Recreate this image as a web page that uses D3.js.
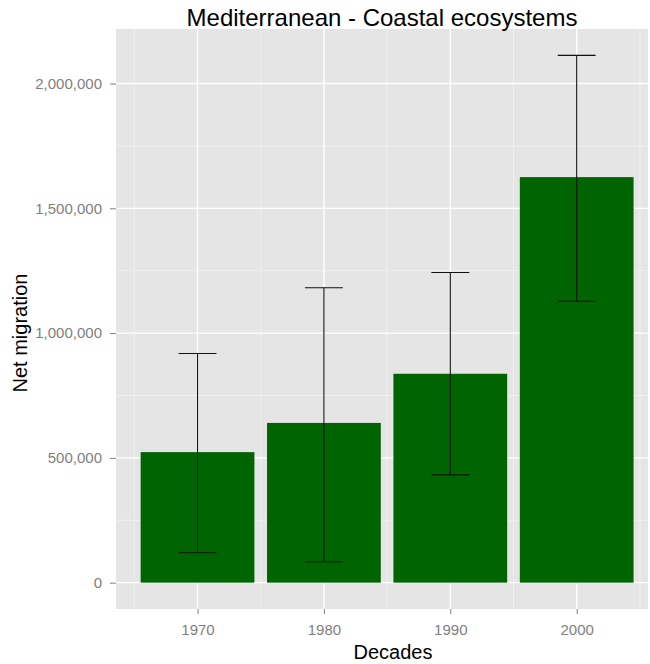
<!DOCTYPE html>
<html>
<head>
<meta charset="utf-8">
<script src="https://cdn.jsdelivr.net/npm/d3@7"></script>
<style>
  html, body { margin: 0; padding: 0; background: #ffffff; }
  svg { display: block; font-family: "Liberation Sans", Arial, sans-serif; }
</style>
</head>
<body>
<svg id="chart" width="650" height="664"></svg>
<script>
// Net migration per decade, Mediterranean coastal ecosystems
const decades = [1970, 1980, 1990, 2000];
const netMigration = [523000, 640000, 837000, 1625000];
const errLow = [120000, 84000, 432000, 1127000];
const errHigh = [918000, 1182000, 1243000, 2113000];
const yTicks = [0, 500000, 1000000, 1500000, 2000000];
const yMinor = [250000, 750000, 1250000, 1750000];
const xMinor = [1965, 1975, 1985, 1995, 2005];

const barWidthYears = 9;
const capWidthYears = 3;

const svg = d3.select("#chart");
const panel = { left: 116, right: 648, top: 29, bottom: 609 };

// continuous x with 5% expansion around the bar extents
const xLo = d3.min(decades) - barWidthYears / 2;
const xHi = d3.max(decades) + barWidthYears / 2;
const xPad = (xHi - xLo) * 0.05;
const x = d3.scaleLinear()
  .domain([xLo - xPad, xHi + xPad])
  .range([panel.left, panel.left + (panel.right - panel.left) * 1.0192]);

const yLo = Math.min(0, d3.min(errLow));
const yHi = d3.max(errHigh);
const yPad = (yHi - yLo) * 0.05;
const y = d3.scaleLinear()
  .domain([yLo - yPad, yHi + yPad])
  .range([panel.bottom, panel.top]);

svg.append("defs").append("clipPath").attr("id", "panelClip")
  .append("rect")
  .attr("x", panel.left).attr("y", panel.top)
  .attr("width", panel.right - panel.left)
  .attr("height", panel.bottom - panel.top);

const g = svg.append("g").attr("clip-path", "url(#panelClip)");

g.append("rect")
  .attr("x", panel.left).attr("y", panel.top)
  .attr("width", panel.right - panel.left)
  .attr("height", panel.bottom - panel.top)
  .attr("fill", "#e5e5e5");

// minor grid
g.selectAll("line.ymin").data(yMinor).join("line")
  .attr("x1", panel.left).attr("x2", panel.right)
  .attr("y1", d => y(d)).attr("y2", d => y(d))
  .attr("stroke", "#f2f2f2").attr("stroke-width", 0.8);
g.selectAll("line.xmin").data(xMinor).join("line")
  .attr("y1", panel.top).attr("y2", panel.bottom)
  .attr("x1", d => x(d)).attr("x2", d => x(d))
  .attr("stroke", "#f2f2f2").attr("stroke-width", 0.8);

// major grid
g.selectAll("line.ymaj").data(yTicks).join("line")
  .attr("x1", panel.left).attr("x2", panel.right)
  .attr("y1", d => y(d)).attr("y2", d => y(d))
  .attr("stroke", "#ffffff").attr("stroke-width", 1.4);
g.selectAll("line.xmaj").data(decades).join("line")
  .attr("y1", panel.top).attr("y2", panel.bottom)
  .attr("x1", d => x(d)).attr("x2", d => x(d))
  .attr("stroke", "#ffffff").attr("stroke-width", 1.4);

// bars
g.selectAll("rect.bar").data(decades).join("rect")
  .attr("class", "bar")
  .attr("x", d => x(d - barWidthYears / 2))
  .attr("width", d => x(d + barWidthYears / 2) - x(d - barWidthYears / 2))
  .attr("y", (d, i) => y(netMigration[i]))
  .attr("height", (d, i) => y(0) - y(netMigration[i]))
  .attr("fill", "#006400");

// error bars
const eb = g.selectAll("g.err").data(decades).join("g");
eb.append("line")
  .attr("x1", d => x(d)).attr("x2", d => x(d))
  .attr("y1", (d, i) => y(errLow[i])).attr("y2", (d, i) => y(errHigh[i]))
  .attr("stroke", "#111").attr("stroke-width", 1.1);
eb.append("line")
  .attr("x1", d => x(d - capWidthYears / 2)).attr("x2", d => x(d + capWidthYears / 2))
  .attr("y1", (d, i) => y(errHigh[i])).attr("y2", (d, i) => y(errHigh[i]))
  .attr("stroke", "#111").attr("stroke-width", 1.1);
eb.append("line")
  .attr("x1", d => x(d - capWidthYears / 2)).attr("x2", d => x(d + capWidthYears / 2))
  .attr("y1", (d, i) => y(errLow[i])).attr("y2", (d, i) => y(errLow[i]))
  .attr("stroke", "#111").attr("stroke-width", 1.1);

// axes
const fmt = d3.format(",");
const yAxis = svg.append("g")
  .attr("transform", `translate(${panel.left},0)`)
  .call(d3.axisLeft(y).tickValues(yTicks).tickFormat(fmt).tickSize(6).tickPadding(8));
const xAxis = svg.append("g")
  .attr("transform", `translate(0,${panel.bottom})`)
  .call(d3.axisBottom(x).tickValues(decades).tickFormat(d3.format("d")).tickSize(5).tickPadding(10));

[yAxis, xAxis].forEach(ax => {
  ax.select(".domain").remove();
  ax.selectAll(".tick line").attr("stroke", "#7f7f7f").attr("stroke-width", 1);
  ax.selectAll(".tick text")
    .attr("fill", "#7f7f7f")
    .attr("font-size", 15)
    .attr("font-family", "\"Liberation Sans\", Arial, sans-serif");
});

// titles
svg.append("text")
  .attr("x", 382).attr("y", 26)
  .attr("text-anchor", "middle")
  .attr("font-size", 24)
  .attr("fill", "#000")
  .text("Mediterranean - Coastal ecosystems");

svg.append("text")
  .attr("x", 393).attr("y", 659)
  .attr("text-anchor", "middle")
  .attr("font-size", 20)
  .attr("fill", "#000")
  .text("Decades");

svg.append("text")
  .attr("transform", "translate(27,333) rotate(-90)")
  .attr("text-anchor", "middle")
  .attr("font-size", 20)
  .attr("fill", "#000")
  .text("Net migration");
</script>
</body>
</html>
